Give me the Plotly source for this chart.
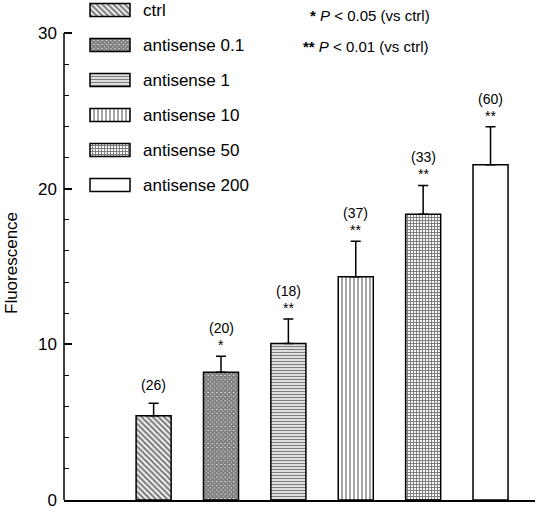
import plotly.graph_objects as go

# ---- data ----
categories = ["ctrl", "antisense 0.1", "antisense 1", "antisense 10", "antisense 50", "antisense 200"]
means = [5.42, 8.2, 10.06, 14.34, 18.35, 21.54]
sems = [0.79, 1.03, 1.56, 2.29, 1.86, 2.44]
n_labels = ["(26)", "(20)", "(18)", "(37)", "(33)", "(60)"]
stars = ["", "*", "**", "**", "**", "**"]
y_ticks = [0, 10, 20, 30]
y_minor = [2, 4, 6, 8, 12, 14, 16, 18, 22, 24, 26, 28]

# ---- styles ----
FONT = "Liberation Sans, Arial, sans-serif"
pat_shapes = ["\\", "x", "-", "|", "+", ""]
pat_sizes = [4, 3, 3, 4, 3, 8]
pat_solid = [0.55, 0.9, 0.5, 0.35, 0.6, 0.2]

fig = go.Figure()

fig.add_trace(go.Bar(
    x=categories, y=means, width=0.52,
    marker=dict(color="white", line=dict(color="black", width=1.5),
                pattern=dict(shape=pat_shapes, size=pat_sizes, solidity=pat_solid,
                             fgcolor="black", bgcolor="white", fillmode="overlay")),
    error_y=dict(type="data", symmetric=False, array=sems, arrayminus=[0] * len(sems),
                 color="black", thickness=1.5, width=5),
    showlegend=False, xaxis="x", yaxis="y",
))

# legend swatches drawn as bars on a hidden overlaid axis pair
legend_rows = list(range(len(categories)))
SWATCH_LEN = 1
fig.add_trace(go.Bar(
    x=[SWATCH_LEN] * len(categories), y=legend_rows, orientation="h", width=0.37,
    marker=dict(color="white", line=dict(color="black", width=1.5),
                pattern=dict(shape=pat_shapes, size=pat_sizes, solidity=pat_solid,
                             fgcolor="black", bgcolor="white", fillmode="overlay")),
    showlegend=False, xaxis="x2", yaxis="y2", hoverinfo="skip",
))

annotations = []
for i, cat in enumerate(categories):
    top = means[i] + sems[i]
    if stars[i]:
        annotations.append(dict(x=cat, y=top, xref="x", yref="y", text=stars[i],
                                showarrow=False, yanchor="middle", yshift=11,
                                font=dict(family=FONT, size=14, color="black")))
        nshift = 28
    else:
        nshift = 18
    annotations.append(dict(x=cat, y=top, xref="x", yref="y", text=n_labels[i],
                            showarrow=False, yanchor="middle", yshift=nshift,
                            font=dict(family=FONT, size=14, color="black")))
    # legend labels
    annotations.append(dict(x=1.275, y=legend_rows[i], xref="x2", yref="y2", text=cat,
                            showarrow=False, xanchor="left", yanchor="middle",
                            font=dict(family=FONT, size=17, color="black")))

annotations.append(dict(x=(308 - 64) / 471, y=(500 - 15) / 500, xref="paper", yref="paper",
                        text="<b>*</b> <i>P</i> &lt; 0.05 (vs ctrl)", showarrow=False,
                        xanchor="left", yanchor="middle",
                        font=dict(family=FONT, size=15, color="black")))
annotations.append(dict(x=(301 - 64) / 471, y=(500 - 47) / 500, xref="paper", yref="paper",
                        text="<b>**</b> <i>P</i> &lt; 0.01 (vs ctrl)", showarrow=False,
                        xanchor="left", yanchor="middle",
                        font=dict(family=FONT, size=15, color="black")))
annotations.append(dict(x=-53 / 471, y=(500 - 263) / 500, xref="paper", yref="paper",
                        text="Fluorescence", textangle=-90, showarrow=False,
                        xanchor="center", yanchor="middle",
                        font=dict(family=FONT, size=17, color="black")))

fig.update_layout(
    width=541, height=513,
    margin=dict(l=64, r=6, t=0, b=13),
    paper_bgcolor="white", plot_bgcolor="white",
    font=dict(family=FONT, color="black"),
    xaxis=dict(type="category", range=[-1.33, 5.66], showline=True, linecolor="black",
               linewidth=1.5, ticks="", showticklabels=False, showgrid=False, zeroline=False),
    yaxis=dict(range=[0, 30 * 500 / 467], tickvals=y_ticks, ticks="inside", ticklen=8,
               tickwidth=1.5, tickcolor="black", showline=False, showgrid=False,
               zeroline=False, tickfont=dict(family=FONT, size=17), ticklabelstandoff=6,
               minor=dict(tickvals=y_minor, ticks="inside", ticklen=5, tickwidth=1.2,
                          tickcolor="black")),
    xaxis2=dict(range=[-0.65, 11.125], anchor="y2", overlaying="x", visible=False),
    yaxis2=dict(range=[14, -0.2857], anchor="x2", overlaying="y", visible=False),
    shapes=[dict(type="line", xref="paper", yref="y", x0=0, x1=0, y0=0, y1=30,
                 line=dict(color="black", width=1.5))],
    annotations=annotations,
)

fig.write_html("out.html", config={"displayModeBar": False},
               post_script="document.body.style.margin='0';")
